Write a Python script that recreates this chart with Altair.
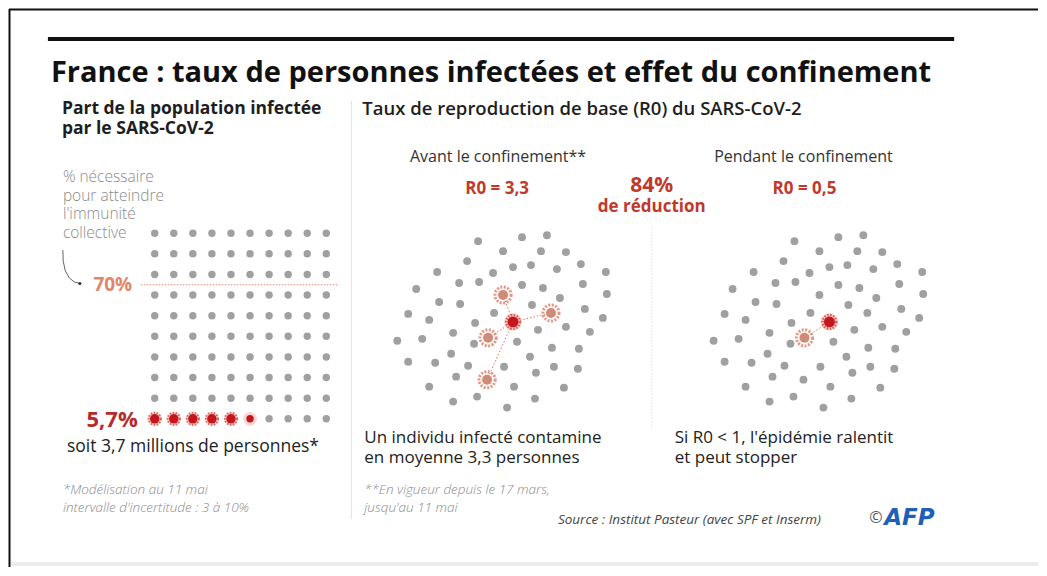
import altair as alt
import pandas as pd

# ---------------- data ----------------
TITLE = "France : taux de personnes infectées et effet du confinement"
population = 100            # 10 x 10 people
infected_share = 5.7        # % of population infected
herd_threshold = 70         # % needed for herd immunity
r0_before = "3,3"
r0_during = "0,5"
reduction = "84%"

# scattered crowd: offset of every person from the first infected person (px)
crowd_dx = [-35, 9, 34, -10, 28, 53, -46, 0, 18, 68, -76, -20, 44, 93, -54, -34, 9, 30, 70,
            -97, 94, -74, -53, -10, 19, 47, 72, -105, -84, -19, 38, 0, 53, 90, -38, -60, -25,
            25, 77, -116, -91, -39, 4, -105, -78, -62, -45, -9, 17, 39, 41, 66, 65, -84, -57,
            -26, 1, 23, 51, -60, -36, -6, 22]
crowd_dy = [-81, -85, -87, -71, -71, -70, -61, -55, -57, -58, -50, -49, -53, -50, -39, -40, -37,
            -34, -38, -33, -28, -20, -18, -27, -17, -24, -13, -8, -2, -9, -9, 0, 5, -4, 1, 11,
            16, 8, 10, 19, 17, 22, 20, 40, 41, 32, 44, 45, 35, 26, 45, 27, 47, 65, 55, 58, 65,
            51, 66, 80, 75, 86, 77]
# status of each person: 0 healthy, 1 contaminated, 2 first infected
status_before = [0] * len(crowd_dx)
status_during = [0] * len(crowd_dx)
idx_first = 31
contaminated_before = [23, 30, 36, 55]   # R0 = 3,3
contaminated_during = [36]              # R0 = 0,5
status_before[idx_first] = 2
status_during[idx_first] = 2
for i in contaminated_before:
    status_before[i] = 1
for i in contaminated_during:
    status_during[i] = 1

left_title = ["Part de la population infectée", "par le SARS-CoV-2"]
right_title = "Taux de reproduction de base (R0) du SARS-CoV-2"
note_lines = ["% nécessaire", "pour atteindre", "l'immunité", "collective"]
people_line = "soit 3,7 millions de personnes*"
foot_left = ["*Modélisation au 11 mai", "intervalle d'incertitude : 3 à 10%"]
foot_mid = ["**En vigueur depuis le 17 mars,", "jusqu'au 11 mai"]
before_head = "Avant le confinement**"
during_head = "Pendant le confinement"
before_text = ["Un individu infecté contamine", "en moyenne 3,3 personnes"]
during_text = ["Si R0 < 1, l'épidémie ralentit", "et peut stopper"]
source = "Source : Institut Pasteur (avec SPF et Inserm)"

# ---------------- layout ----------------
FONT = "Open Sans"
RED = "#c0392b"
GRAY_DOT = "#a0a0a0"
grid = dict(x0=154, dx=19.1, y0=233, dy=20.7)
crowd_centers = {"before": (513, 322), "during": (830, 322)}

xs = alt.Scale(domain=[8, 1039], nice=False, zero=False)
ys = alt.Scale(domain=[8, 568], nice=False, zero=False, reverse=True)


def xy(ch, **kw):
    return ch.encode(x=alt.X("x:Q", scale=xs, axis=None),
                     y=alt.Y("y:Q", scale=ys, axis=None), **kw)


def seg(ch):
    return xy(ch).encode(x2="x2:Q", y2="y2:Q")


# grid of 100 people (bottom row first)
rows = []
n_full = int(infected_share)
for k in range(population):
    r = 9 - k // 10
    c = k % 10
    state = "full" if k < n_full else ("part" if k < infected_share else "none")
    rows.append(dict(x=grid["x0"] + c * grid["dx"], y=grid["y0"] + r * grid["dy"], st=state))
grid_df = pd.DataFrame(rows)

crowd_rows = []
for name, status in (("before", status_before), ("during", status_during)):
    cx, cy = crowd_centers[name]
    for dx, dy, s in zip(crowd_dx, crowd_dy, status):
        crowd_rows.append(dict(x=cx + dx, y=cy + dy, s=s, panel=name))
crowd_df = pd.DataFrame(crowd_rows)

links = []
for name, lst in (("before", contaminated_before), ("during", contaminated_during)):
    cx, cy = crowd_centers[name]
    for i in lst:
        links.append(dict(x=cx, y=cy, x2=cx + crowd_dx[i], y2=cy + crowd_dy[i]))
links_df = pd.DataFrame(links)

line70 = grid["y0"] + (9 - herd_threshold / 10 + 0.5) * grid["dy"]

layers = []

# frame, title bar, separators
layers.append(seg(alt.Chart(pd.DataFrame([dict(x=8.5, y=8, x2=8.5, y2=568),
                                          dict(x=8, y=8.5, x2=1039, y2=8.5)]))
                  .mark_rule(color="#111", strokeWidth=2)))
layers.append(seg(alt.Chart(pd.DataFrame([dict(x=10, y=563, x2=1039, y2=567)]))
                  .mark_rect(color="#ececec")))
layers.append(seg(alt.Chart(pd.DataFrame([dict(x=47, y=38, x2=955, y2=38)]))
                  .mark_rule(color="#111", strokeWidth=4)))
layers.append(seg(alt.Chart(pd.DataFrame([dict(x=351, y=100, x2=351, y2=520)]))
                  .mark_rule(color="#e2e2e2", strokeWidth=1)))
layers.append(seg(alt.Chart(pd.DataFrame([dict(x=652, y=226, x2=652, y2=430)]))
                  .mark_rule(color="#d4d4d4", strokeWidth=1, strokeDash=[1, 2])))

# 70 % dotted line
layers.append(seg(alt.Chart(pd.DataFrame([dict(x=140, y=line70, x2=337, y2=line70)]))
                  .mark_rule(color="#e08a6e", strokeWidth=1, strokeDash=[1.5, 1.5])))

# curved arrow
arrow = pd.DataFrame(dict(x=[62, 62.3, 64.5, 68.5, 73.5, 79], y=[250, 261, 271, 278, 282, 283.5],
                          o=list(range(6))))
layers.append(xy(alt.Chart(arrow).mark_line(color="#666", strokeWidth=1), order="o:Q"))
layers.append(xy(alt.Chart(arrow.tail(1)).mark_circle(color="#333", size=10, opacity=1)))

# grid dots
layers.append(xy(alt.Chart(grid_df).transform_filter("datum.st == 'none'")
                 .mark_circle(color=GRAY_DOT, size=55, opacity=1)))
layers.append(xy(alt.Chart(grid_df).transform_filter("datum.st != 'none'")
                 .mark_circle(color="#e8604c", size=190, opacity=0.25)))
layers.append(xy(alt.Chart(grid_df).transform_filter("datum.st == 'full'")
                 .mark_point(shape="circle", color="#d0302a", size=150, filled=False,
                             strokeWidth=2, strokeDash=[1.5, 1.5])))
layers.append(xy(alt.Chart(grid_df).transform_filter("datum.st == 'full'")
                 .mark_circle(color="#c4161c", size=90, opacity=1)))
layers.append(xy(alt.Chart(grid_df).transform_filter("datum.st == 'part'")
                 .mark_circle(color="#c4161c", size=55, opacity=1)))

# links
layers.append(seg(alt.Chart(links_df).mark_rule(color="#e0735c", strokeWidth=1, strokeDash=[1.5, 2])))
# crowd
layers.append(xy(alt.Chart(crowd_df).transform_filter("datum.s == 0")
                 .mark_circle(color=GRAY_DOT, size=62, opacity=1)))
layers.append(xy(alt.Chart(crowd_df).transform_filter("datum.s == 1")
                 .mark_point(shape="circle", color="#e07b64", size=260, filled=False,
                             strokeWidth=3, strokeDash=[2, 1.5], opacity=0.8)))
layers.append(xy(alt.Chart(crowd_df).transform_filter("datum.s == 1")
                 .mark_circle(color="#cf8a78", size=100, opacity=1)))
layers.append(xy(alt.Chart(crowd_df).transform_filter("datum.s == 2")
                 .mark_circle(color="#e8604c", size=300, opacity=0.3)))
layers.append(xy(alt.Chart(crowd_df).transform_filter("datum.s == 2")
                 .mark_point(shape="circle", color="#d0302a", size=190, filled=False,
                             strokeWidth=2.5, strokeDash=[1.5, 1.5])))
layers.append(xy(alt.Chart(crowd_df).transform_filter("datum.s == 2")
                 .mark_circle(color="#c4161c", size=120, opacity=1)))

# ---------------- texts ----------------
texts = [
    # text, x, y, style
    (TITLE, 50, 72, "title"),
    (left_title[0], 61, 108, "sub"),
    (left_title[1], 61, 128, "sub"),
    (right_title, 362, 108, "sub2"),
    (note_lines[0], 62, 177, "note"),
    (note_lines[1], 62, 195.5, "note"),
    (note_lines[2], 62, 214, "note"),
    (note_lines[3], 62, 233, "note"),
    (f"{herd_threshold}%", 112, 285, "pct70"),
    (f"{infected_share:.1f}%".replace(".", ","), 137, 420, "pct57"),
    (people_line, 66, 448, "people"),
    (foot_left[0], 62, 491, "foot"),
    (foot_left[1], 62, 509, "foot"),
    (before_head, 498, 157, "head"),
    (during_head, 804, 157, "head"),
    (f"R0 = {r0_before}", 497, 189, "r0"),
    (f"R0 = {r0_during}", 805, 189, "r0"),
    (reduction, 652, 186, "big"),
    ("de réduction", 652, 207, "r0"),
    (before_text[0], 364, 439, "body"),
    (before_text[1], 364, 459, "body"),
    (during_text[0], 675, 439, "body"),
    (during_text[1], 675, 459, "body"),
    (foot_mid[0], 364, 491, "foot"),
    (foot_mid[1], 364, 509, "foot"),
    (source, 558, 521, "source"),
    ("©", 870, 519, "copy"),
    ("AFP", 885, 519, "afp"),
]
tdf = pd.DataFrame(texts, columns=["t", "x", "y", "g"])

styles = {
    "title": dict(fontSize=29, fontWeight="bold", color="#111", align="left"),
    "sub": dict(fontSize=17.5, fontWeight="bold", color="#1e1e1e", align="left"),
    "sub2": dict(fontSize=18.5, fontWeight=600, color="#1e1e1e", align="left"),
    "note": dict(fontSize=15.5, fontWeight=300, color="#8a8a8a", align="left"),
    "pct70": dict(fontSize=19, fontWeight="bold", color="#e0866a", align="center"),
    "pct57": dict(fontSize=22, fontWeight="bold", color="#b52a2a", align="right"),
    "people": dict(fontSize=17.5, fontWeight="normal", color="#222", align="left"),
    "body": dict(fontSize=17, fontWeight="normal", color="#222", align="left"),
    "foot": dict(fontSize=13.5, fontStyle="italic", fontWeight=300, color="#8a8a8a", align="left"),
    "head": dict(fontSize=16, fontWeight="normal", color="#333", align="center"),
    "r0": dict(fontSize=17, fontWeight="bold", color=RED, align="center"),
    "big": dict(fontSize=21, fontWeight="bold", color=RED, align="center"),
    "source": dict(fontSize=13.5, fontStyle="italic", color="#444", align="left"),
    "copy": dict(fontSize=16, color="#555", align="left"),
    "afp": dict(fontSize=23, fontStyle="italic", fontWeight="bold", color="#1f5fb5", align="left",
                font="DejaVu Sans"),
}
for g, st in styles.items():
    st = dict(st)
    f = st.pop("font", FONT)
    layers.append(xy(alt.Chart(tdf).transform_filter(f"datum.g == '{g}'")
                     .mark_text(font=f, baseline="middle", **st), text="t:N"))

chart = alt.layer(*layers).properties(
    width=1031, height=560, padding=0,
    autosize=alt.AutoSizeParams(type="fit", contains="padding"),
    background="white",
).configure_view(stroke=None)

chart.save("out.html", embed_options={"renderer": "svg", "actions": False})
